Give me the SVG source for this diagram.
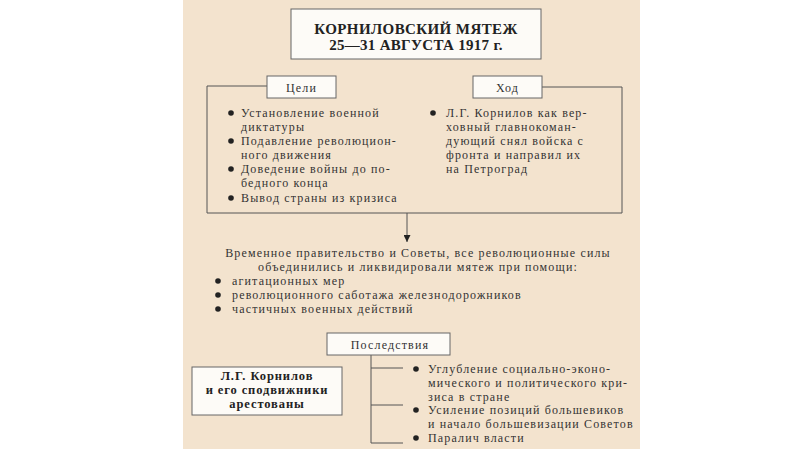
<svg xmlns="http://www.w3.org/2000/svg" width="800" height="449" viewBox="0 0 800 449">
<defs>
<style>
.t{font-family:"Liberation Serif","Times New Roman",serif;font-size:12px;fill:#333;letter-spacing:1.15px}
.b{font-family:"Liberation Serif","Times New Roman",serif;font-weight:bold;fill:#222}
.box{fill:#fdfbf7;stroke:#666;stroke-width:1}
.ln{fill:none;stroke:#555;stroke-width:1}
.dot{fill:#222}
</style>
<marker id="ah" viewBox="0 0 10 10" refX="10" refY="5" markerWidth="7" markerHeight="7" orient="auto" markerUnits="userSpaceOnUse"><path d="M0,0 L10,5 L0,10 z" fill="#222"/></marker>
</defs>
<rect x="0" y="0" width="800" height="449" fill="#ffffff"/>
<rect x="183" y="0" width="457" height="449" fill="#f3e3ce"/>

<g id="connectors">
<path class="ln" d="M267,86 H207 V213 H622 V87 H542"/>
<path class="ln" d="M407,213 V242" marker-end="url(#ah)"/>
<path class="ln" d="M371,355 V443 M371,368 H403 M371,405 H403 M371,443 H403"/>
</g>

<g id="title">
<rect class="box" x="291" y="9" width="250" height="50"/>
<text class="b" font-size="15" text-anchor="middle" x="416" y="34" letter-spacing="0.4">КОРНИЛОВСКИЙ МЯТЕЖ</text>
<text class="b" font-size="15" text-anchor="middle" x="416" y="50" letter-spacing="0.3">25—31 АВГУСТА 1917 г.</text>
</g>

<g id="goals">
<rect class="box" x="267" y="76" width="69" height="22"/>
<text class="t" x="301.5" y="92" text-anchor="middle" font-size="13.5" letter-spacing="1">Цели</text>
<circle class="dot" cx="231" cy="113" r="2.8"/>
<text class="t" x="241" y="117">Установление военной</text>
<text class="t" x="241" y="131">диктатуры</text>
<circle class="dot" cx="231" cy="141" r="2.8"/>
<text class="t" x="241" y="145">Подавление революцион-</text>
<text class="t" x="241" y="159">ного движения</text>
<circle class="dot" cx="231" cy="169" r="2.8"/>
<text class="t" x="241" y="173">Доведение войны до по-</text>
<text class="t" x="241" y="187">бедного конца</text>
<circle class="dot" cx="231" cy="198" r="2.8"/>
<text class="t" x="241" y="202">Вывод страны из кризиса</text>
</g>

<g id="course">
<rect class="box" x="473" y="76" width="69" height="22"/>
<text class="t" x="507.5" y="92" text-anchor="middle" font-size="13.5" letter-spacing="1">Ход</text>
<circle class="dot" cx="433" cy="113" r="2.8"/>
<text class="t" x="446" y="117">Л.Г. Корнилов как вер-</text>
<text class="t" x="446" y="131">ховный главнокоман-</text>
<text class="t" x="446" y="145">дующий снял войска с</text>
<text class="t" x="446" y="159">фронта и направил их</text>
<text class="t" x="446" y="173">на Петроград</text>
</g>

<g id="liquidation">
<text class="t" x="418" y="257" text-anchor="middle">Временное правительство и Советы, все революционные силы</text>
<text class="t" x="418" y="271" text-anchor="middle">объединились и ликвидировали мятеж при помощи:</text>
<circle class="dot" cx="218" cy="281" r="2.8"/>
<text class="t" x="232" y="285">агитационных мер</text>
<circle class="dot" cx="218" cy="295" r="2.8"/>
<text class="t" x="232" y="299">революционного саботажа железнодорожников</text>
<circle class="dot" cx="218" cy="309" r="2.8"/>
<text class="t" x="232" y="313">частичных военных действий</text>
</g>

<g id="consequences">
<rect class="box" x="327" y="333" width="123" height="22"/>
<text class="t" x="390" y="348.5" text-anchor="middle">Последствия</text>
<circle class="dot" cx="416" cy="369" r="2.8"/>
<text class="t" x="428" y="373">Углубление социально-эконо-</text>
<text class="t" x="428" y="387">мического и политического кри-</text>
<text class="t" x="428" y="401">зиса в стране</text>
<circle class="dot" cx="416" cy="410" r="2.8"/>
<text class="t" x="428" y="414">Усиление позиций большевиков</text>
<text class="t" x="428" y="428">и начало большевизации Советов</text>
<circle class="dot" cx="416" cy="438" r="2.8"/>
<text class="t" x="428" y="442">Паралич власти</text>
</g>

<g id="arrested">
<rect class="box" x="192" y="367" width="150" height="48"/>
<text class="b" font-size="12.5" text-anchor="middle" x="267" y="380" letter-spacing="0.9">Л.Г. Корнилов</text>
<text class="b" font-size="12.5" text-anchor="middle" x="267" y="394" letter-spacing="0.9">и его сподвижники</text>
<text class="b" font-size="12.5" text-anchor="middle" x="267" y="408" letter-spacing="0.9">арестованы</text>
</g>
</svg>
